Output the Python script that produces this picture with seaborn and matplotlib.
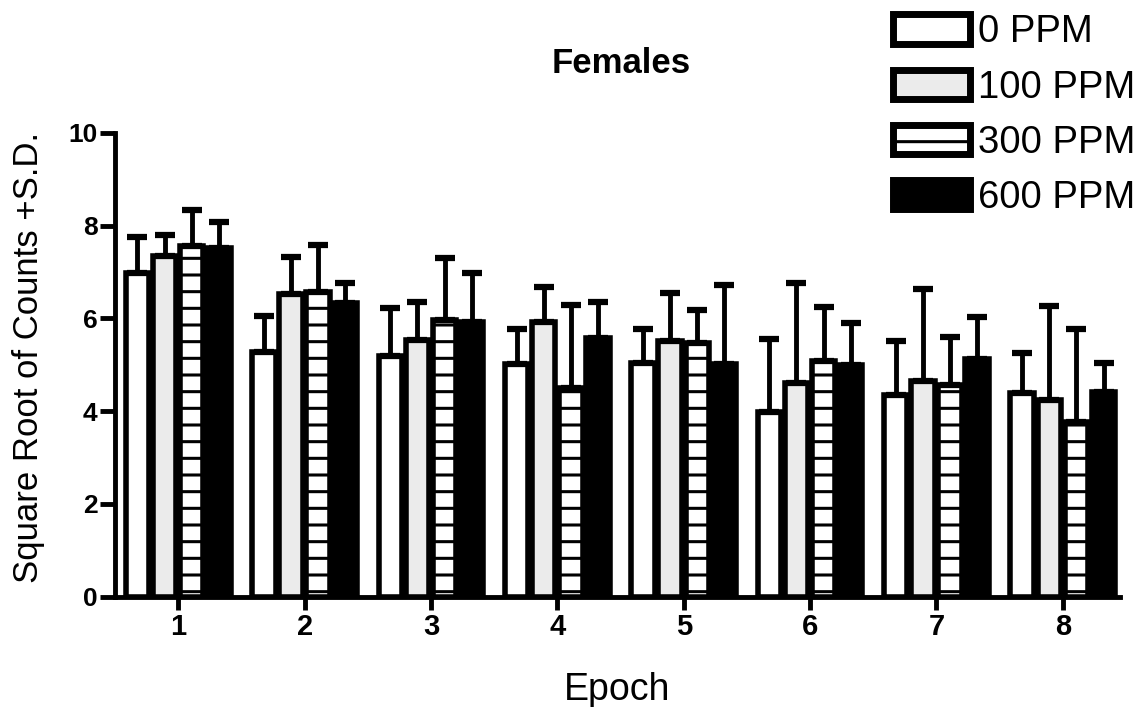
import matplotlib
matplotlib.use("Agg")
import matplotlib.pyplot as plt
import seaborn as sns
import pandas as pd
import numpy as np
from matplotlib.patches import Patch

# ==================== Data ====================
epochs = ["1", "2", "3", "4", "5", "6", "7", "8"]
doses = ["0 PPM", "100 PPM", "300 PPM", "600 PPM"]

mean_0 = [6.98, 5.28, 5.19, 5.02, 5.04, 3.99, 4.35, 4.40]
mean_100 = [7.35, 6.53, 5.54, 5.93, 5.52, 4.61, 4.66, 4.25]
mean_300 = [7.56, 6.57, 5.97, 4.50, 5.47, 5.09, 4.57, 3.77]
mean_600 = [7.52, 6.34, 5.93, 5.58, 5.02, 5.00, 5.13, 4.42]

sd_0 = [0.78, 0.78, 1.04, 0.76, 0.74, 1.57, 1.17, 0.86]
sd_100 = [0.45, 0.80, 0.82, 0.75, 1.03, 2.16, 1.98, 2.02]
sd_300 = [0.78, 1.02, 1.34, 1.79, 0.72, 1.16, 1.03, 2.01]
sd_600 = [0.56, 0.43, 1.05, 0.78, 1.70, 0.91, 0.90, 0.62]

y_ticks = [0, 2, 4, 6, 8, 10]

means = [mean_0, mean_100, mean_300, mean_600]
sds = [sd_0, sd_100, sd_300, sd_600]

df = pd.DataFrame({
    "Epoch": np.tile(epochs, len(doses)),
    "Dose": np.repeat(doses, len(epochs)),
    "Value": np.concatenate(means),
})

# ==================== Style ====================
sns.set_theme(style="ticks")
plt.rcParams.update({
    "font.family": ["Liberation Sans", "DejaVu Sans"],
    "hatch.linewidth": 2.2,
    "axes.linewidth": 3.5,
    "axes.edgecolor": "black",
    "xtick.color": "black",
    "ytick.color": "black",
    "text.color": "black",
})

# face colour / hatch per dose
styles = {
    "0 PPM": ("white", None),
    "100 PPM": ("#ebebeb", None),
    "300 PPM": ("white", "-"),
    "600 PPM": ("black", None),
}

fig = plt.figure(figsize=(11.39, 7.07), dpi=100)
ax = fig.add_axes([0.101, 0.156, 0.882, 0.656])

sns.barplot(data=df, x="Epoch", y="Value", hue="Dose", order=epochs,
            hue_order=doses, width=0.86, gap=0.14, ax=ax, legend=False,
            errorbar=None, edgecolor="black", linewidth=4)

# restyle bars and add upper-only SD bars
for cont, dose, sd in zip(ax.containers, doses, sds):
    face, hatch = styles[dose]
    xs, tops = [], []
    for bar in cont:
        bar.set_facecolor(face)
        bar.set_edgecolor("black")
        if hatch:
            bar.set_hatch(hatch)
        xs.append(bar.get_x() + bar.get_width() / 2)
        tops.append(bar.get_height())
    ax.errorbar(xs, tops, yerr=[np.zeros(len(sd)), sd], fmt="none",
                ecolor="black", elinewidth=3.5, capsize=7, capthick=4.5,
                zorder=1)

ax.set_ylim(0, 10)
ax.set_xlim(-0.5, 7.45)
ax.set_yticks(y_ticks)
ax.set_yticklabels([str(t) for t in y_ticks])
sns.despine(ax=ax)
ax.tick_params(axis="y", length=11, width=3.5, pad=1.5, labelsize=19)
ax.tick_params(axis="x", length=9, width=3.5, pad=3, labelsize=21)
for lab in ax.get_xticklabels() + ax.get_yticklabels():
    lab.set_fontweight("bold")
ax.set_xlabel("")
ax.set_ylabel("")

fig.text(0.545, 0.91, "Females", ha="center", va="center",
         fontsize=25, fontweight="bold")
fig.text(0.542, 0.024, "Epoch", ha="center", va="center", fontsize=27)
fig.text(0.025, 0.495, "Square Root of Counts +S.D.", ha="center",
         va="center", rotation=90, fontsize=25)

handles = [Patch(facecolor=styles[d][0], edgecolor="black", linewidth=5,
                 hatch=styles[d][1]) for d in doses]
fig.legend(handles, doses, loc="upper left", bbox_to_anchor=(0.7635, 1.012),
           frameon=False, fontsize=27.5, handlelength=2.04, handleheight=0.81,
           handletextpad=0.2, labelspacing=0.5, borderaxespad=0.2)

fig.savefig("out.png", dpi=100)
